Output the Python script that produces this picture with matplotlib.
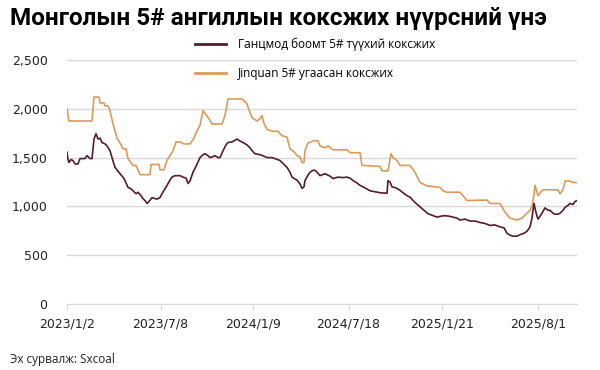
import matplotlib
matplotlib.use("Agg")
import matplotlib.pyplot as plt
import pandas as pd

# days since 2023/1/2 and prices
jq_days = [0, 4, 50, 54, 64, 66, 74, 76, 82, 86, 92, 100, 106, 112, 118, 122, 132, 138, 146, 166,
           168, 184, 186, 194, 200, 206, 212, 218, 226, 234, 246, 254, 260, 266, 272, 280, 286, 290,
           310, 316, 322, 350, 356, 360, 366, 370, 380, 386, 390, 394, 400, 410, 422, 426, 430, 440,
           446, 454, 460, 466, 470, 474, 476, 482, 496, 502, 506, 516, 522, 532, 560, 566, 586, 590,
           626, 630, 642, 648, 652, 660, 666, 686, 696, 706, 720, 746, 752, 760, 786, 800, 840, 846,
           866, 876, 886, 900, 910, 918, 926, 930, 934, 936, 938, 942, 948, 952, 982, 986, 992, 996,
           1006, 1012, 1020]
jq_price = [2000, 1875, 1875, 2120, 2120, 2060, 2060, 2030, 2030, 1980, 1845, 1700, 1650, 1590, 1590,
            1490, 1420, 1420, 1325, 1325, 1430, 1430, 1375, 1375, 1470, 1520, 1570, 1660, 1660, 1640,
            1640, 1700, 1775, 1830, 1980, 1930, 1880, 1845, 1845, 1930, 2100, 2100, 2075, 2050, 1960,
            1910, 1875, 1900, 1930, 1850, 1790, 1770, 1770, 1745, 1725, 1710, 1590, 1560, 1520, 1510,
            1450, 1450, 1570, 1650, 1675, 1670, 1620, 1600, 1620, 1580, 1580, 1550, 1550, 1420, 1410,
            1365, 1365, 1540, 1500, 1470, 1420, 1420, 1350, 1245, 1210, 1195, 1160, 1145, 1145, 1060,
            1065, 1030, 1030, 940, 880, 860, 880, 920, 960, 1000, 1120, 1215, 1180, 1110, 1150, 1170,
            1170, 1130, 1170, 1260, 1260, 1245, 1245]

gm_days = [0, 2, 4, 8, 12, 16, 22, 26, 36, 40, 42, 46, 50, 54, 58, 62, 66, 70, 76, 80, 86, 90, 96,
           102, 106, 112, 116, 122, 128, 132, 138, 142, 148, 152, 156, 160, 164, 170, 176, 180, 186,
           190, 196, 200, 206, 210, 216, 226, 232, 238, 242, 246, 252, 258, 266, 272, 276, 282, 286,
           292, 296, 302, 306, 312, 318, 322, 330, 340, 346, 352, 360, 366, 372, 376, 386, 396, 400,
           410, 416, 426, 430, 436, 440, 446, 450, 456, 460, 466, 470, 474, 476, 482, 486, 492, 496,
           502, 506, 516, 526, 532, 542, 552, 560, 566, 572, 580, 586, 596, 606, 616, 626, 640, 642,
           646, 650, 658, 666, 672, 680, 686, 696, 706, 714, 722, 732, 740, 748, 756, 764, 772, 780,
           786, 796, 806, 816, 826, 836, 846, 856, 866, 874, 880, 886, 892, 900, 906, 914, 920, 926,
           930, 932, 934, 936, 940, 942, 946, 950, 956, 962, 966, 972, 976, 982, 986, 992, 996, 1002,
           1006, 1012, 1016, 1020]
gm_price = [1555, 1480, 1450, 1480, 1470, 1435, 1435, 1490, 1490, 1520, 1510, 1490, 1490, 1690, 1745,
            1690, 1700, 1655, 1640, 1620, 1570, 1500, 1400, 1360, 1335, 1300, 1265, 1195, 1180, 1160,
            1130, 1145, 1110, 1080, 1060, 1030, 1050, 1090, 1080, 1075, 1090, 1130, 1180, 1215, 1270,
            1300, 1315, 1315, 1300, 1290, 1235, 1260, 1350, 1410, 1500, 1530, 1540, 1520, 1500, 1510,
            1520, 1500, 1500, 1570, 1630, 1655, 1660, 1690, 1670, 1655, 1630, 1600, 1560, 1540, 1530,
            1510, 1500, 1500, 1490, 1470, 1450, 1420, 1400, 1350, 1300, 1280, 1270, 1230, 1185, 1200,
            1265, 1320, 1350, 1370, 1370, 1340, 1315, 1335, 1310, 1285, 1300, 1295, 1300, 1290, 1265,
            1240, 1215, 1190, 1160, 1150, 1140, 1135, 1265, 1250, 1200, 1190, 1165, 1140, 1110, 1095,
            1040, 995, 960, 925, 905, 890, 900, 905, 900, 890, 880, 860, 870, 850, 850, 835, 825, 805,
            810, 790, 780, 725, 705, 695, 695, 710, 725, 745, 790, 880, 960, 1030, 980, 900, 870, 900,
            930, 985, 960, 960, 930, 920, 920, 930, 960, 990, 1010, 1030, 1020, 1050, 1060]

tick_labels = ["2023/1/2", "2023/7/8", "2024/1/9", "2024/7/18", "2025/1/21", "2025/8/1"]
y_ticks = [0, 500, 1000, 1500, 2000, 2500]

start = pd.Timestamp("2023-01-02")
jq_dates = start + pd.to_timedelta(jq_days, unit="D")
gm_dates = start + pd.to_timedelta(gm_days, unit="D")

dark = "#561c2a"
orange = "#dc9a5a"
grid = "#d9d9d9"

fig = plt.figure(figsize=(6, 3.7), dpi=100)
ax = fig.add_axes([67 / 600, 1 - 304 / 370, 510 / 600, 244 / 370])

ax.plot(gm_dates, gm_price, color=dark, lw=1.2, label="Ганцмод боомт 5# түүхий коксжих", zorder=3)
ax.plot(jq_dates, jq_price, color=orange, lw=1.2, label="Jinquan 5# угаасан коксжих", zorder=2)

ax.set_ylim(0, 2500)
ax.set_xlim(jq_dates[0], jq_dates[-1])
ax.set_yticks(y_ticks)
ax.set_yticklabels([f"{v:,}" for v in y_ticks], fontsize=9, color="#222222")
ax.set_xticks(pd.to_datetime(tick_labels, format="%Y/%m/%d"))
ax.set_xticklabels(tick_labels, fontsize=9, color="#222222")
ax.grid(axis="y", color=grid, lw=1)
ax.set_axisbelow(True)
for s in ["top", "right", "left"]:
    ax.spines[s].set_visible(False)
ax.spines["bottom"].set_color(grid)
ax.tick_params(axis="y", length=0, pad=14)
ax.tick_params(axis="x", length=4, color=grid, pad=6)

fig.text(10 / 600, 1 - 18 / 370, "Монголын 5# ангиллын коксжих нүүрсний үнэ",
         fontsize=17.5, fontweight="bold", family="Roboto", va="center", ha="left")
fig.text(10 / 600, 1 - 359 / 370, "Эх сурвалж: Sxcoal", fontsize=8.5, family="Open Sans",
         va="center", ha="left", color="#222222")

leg = fig.legend(loc="upper left", bbox_to_anchor=(195 / 600, 1 - 38 / 370), frameon=False,
                 prop={"family": "Open Sans", "size": 8.5}, handlelength=2.6, handletextpad=1.0,
                 labelspacing=1.35, borderpad=0, borderaxespad=0)
for line in leg.get_lines():
    line.set_linewidth(2)

fig.savefig("out.png", dpi=100)
